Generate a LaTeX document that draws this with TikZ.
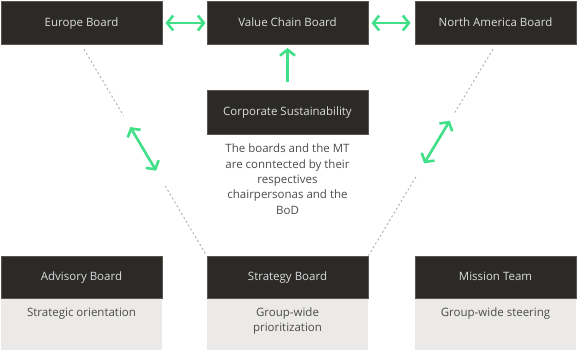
\documentclass[tikz,border=0pt]{standalone}
\usepackage{fontspec}
\setmainfont{Open Sans}
\usetikzlibrary{arrows.meta,calc}
\definecolor{boxdark}{HTML}{2B2A28}
\definecolor{boxedge}{HTML}{5A554F}
\definecolor{boxlight}{HTML}{EBEAE8}
\definecolor{linkgreen}{HTML}{40DF88}
\definecolor{tiegray}{HTML}{B3ABA3}
\definecolor{bodytext}{HTML}{4B4B4B}
\begin{document}
\begin{tikzpicture}[x=1pt,y=-1pt,
  board/.style={draw=boxedge, line width=1pt, fill=boxdark, text=white!86!black,
    minimum width=161pt, minimum height=43pt, inner sep=0pt,
    text height=8.3pt, text depth=2.2pt,
    font=\fontsize{11.5}{14}\selectfont},
  duty/.style={fill=boxlight, minimum width=161pt, minimum height=51pt, inner sep=0pt},
  dutytext/.style={text=bodytext, inner sep=0pt, align=center, anchor=north,
    font=\fontsize{11.5}{15.3}\selectfont},
  link/.style={draw=linkgreen, line width=2.6pt,
    {Straight Barb[length=6pt,width=15pt]}-{Straight Barb[length=6pt,width=15pt]}},
  uplink/.style={draw=linkgreen, line width=2.6pt, -{Straight Barb[length=6pt,width=15pt]}},
  tie/.style={draw=tiegray, line width=0.9pt, dash pattern=on 2pt off 2.5pt}]
\useasboundingbox (0,0) rectangle (577,350);

% top row
\node[board] (eu) at (81.5,23) {Europe Board};
\node[board] (vc) at (287.5,23) {Value Chain Board};
\node[board] (na) at (495.5,23) {North America Board};
\node[board] (cs) at (287.5,112.5) {Corporate Sustainability};

% explanation
\node[dutytext] (note) at (287.5,144)
  {The boards and the MT\\are conntected by their\\respectives\\chairpersonas and the\\BoD};

% bottom row
\node[board, minimum height=42pt] (ab) at (81.5,277) {Advisory Board};
\node[board, minimum height=42pt] (sb) at (287.5,277) {Strategy Board};
\node[board, minimum height=42pt] (mt) at (495.5,277) {Mission Team};
\node[duty, anchor=north] (abd) at (ab.south) {};
\node[duty, anchor=north] (sbd) at (sb.south) {};
\node[duty, anchor=north] (mtd) at (mt.south) {};
\node[dutytext] (abt) at ($(abd.north)+(0,9)$) {Strategic orientation};
\node[dutytext] (sbt) at ($(sbd.north)+(0,9)$) {Group-wide\\prioritization};
\node[dutytext] (mtt) at ($(mtd.north)+(0,9)$) {Group-wide steering};

% horizontal and vertical links
\draw[link, shorten <=3pt, shorten >=1pt] (eu.east) -- (vc.west);
\draw[link, shorten <=3pt, shorten >=4pt] (vc.east) -- (na.west);
\draw[uplink, shorten <=8pt, shorten >=3pt] (cs.north) -- (vc.south);

% diagonal ties with their links
\coordinate (lA) at ($(eu.south)!0.02!(sb.north west)$);
\coordinate (lB) at ($(eu.south)!0.335!(sb.north west)$);
\coordinate (lC) at ($(eu.south)!0.39!(sb.north west)$);
\coordinate (lD) at ($(eu.south)!0.597!(sb.north west)$);
\coordinate (lE) at ($(eu.south)!0.67!(sb.north west)$);
\draw[tie] (lA) -- (lB);
\draw[tie] (lE) -- (sb.north west);
\draw[link] (lC) -- (lD);

\coordinate (rA) at ($(na.south)!0.02!(sb.north east)$);
\coordinate (rB) at ($(na.south)!0.33!(sb.north east)$);
\coordinate (rC) at ($(na.south)!0.36!(sb.north east)$);
\coordinate (rD) at ($(na.south)!0.562!(sb.north east)$);
\coordinate (rE) at ($(na.south)!0.627!(sb.north east)$);
\draw[tie] (rA) -- (rB);
\draw[tie] (rE) -- (sb.north east);
\draw[link] (rC) -- (rD);
\end{tikzpicture}
\end{document}
